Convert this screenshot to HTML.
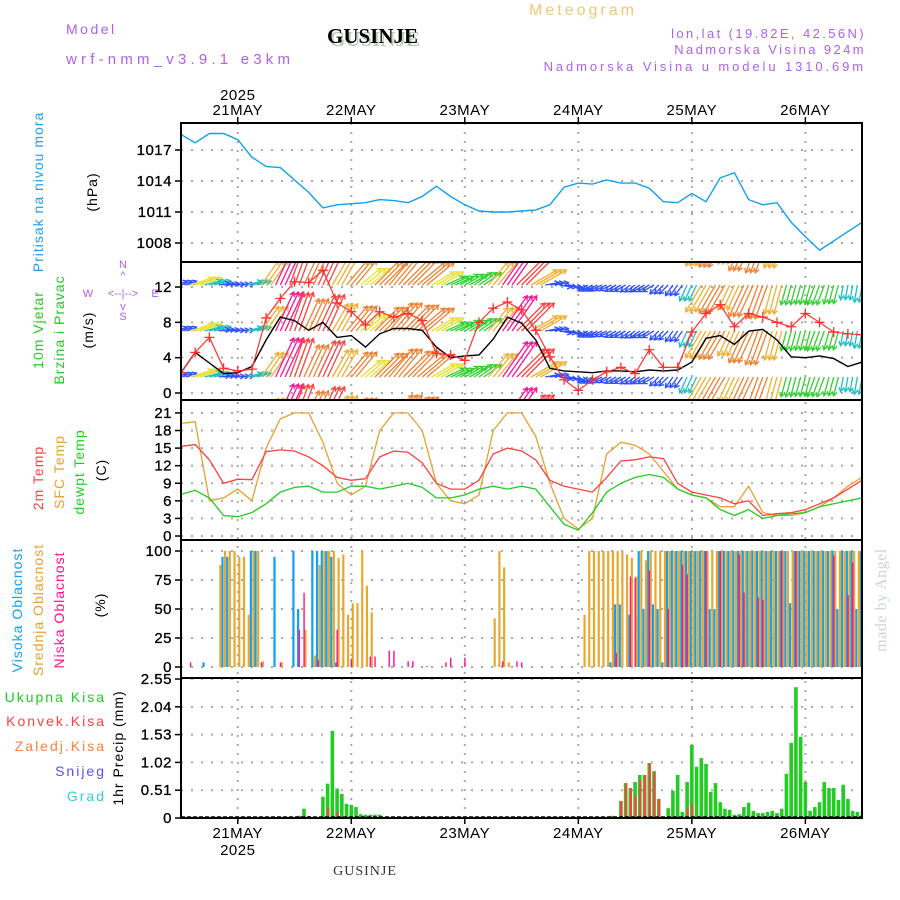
<!DOCTYPE html>
<html><head><meta charset="utf-8"><style>
html,body{margin:0;padding:0;background:#fff;}
svg{display:block;font-family:"Liberation Sans",sans-serif;}
</style></head><body>
<svg id="chart" width="900" height="900" viewBox="0 0 900 900" xmlns="http://www.w3.org/2000/svg">
<defs>
<clipPath id="c1"><rect x="181" y="123" width="681" height="139"/></clipPath>
<clipPath id="c2"><rect x="181" y="263" width="681" height="137"/></clipPath>
<clipPath id="c3"><rect x="181" y="401" width="681" height="139"/></clipPath>
<clipPath id="c4"><rect x="181" y="541" width="681" height="137"/></clipPath>
<clipPath id="c5"><rect x="181" y="679" width="681" height="139"/></clipPath>
</defs>
<g font-size="14">
<text x="66" y="34" fill="#b060f0" letter-spacing="2.5">Model</text>
<text x="66" y="64" fill="#b060f0" font-size="15" letter-spacing="4.2">wrf-nmm_v3.9.1 e3km</text>
<text x="583" y="15" fill="#f0c878" font-size="16" text-anchor="middle" letter-spacing="3">Meteogram</text>
<text x="329" y="46" fill="#b8ccb8" font-family="'Liberation Serif',serif" font-weight="bold" font-size="21">GUSINJE</text>
<text x="327" y="43" fill="#000" font-family="'Liberation Serif',serif" font-weight="bold" font-size="21">GUSINJE</text>
<text x="866" y="38" fill="#b060f0" text-anchor="end" font-size="13" letter-spacing="2.4">lon,lat (19.82E, 42.56N)</text>
<text x="866" y="54" fill="#b060f0" text-anchor="end" font-size="13" letter-spacing="2.4">Nadmorska Visina 924m</text>
<text x="866" y="71" fill="#b060f0" text-anchor="end" font-size="13" letter-spacing="2.9">Nadmorska Visina u modelu 1310.69m</text>
<text x="365" y="875" fill="#333" font-family="'Liberation Serif',serif" font-size="14" text-anchor="middle" letter-spacing="1">GUSINJE</text>
<text transform="translate(886,600) rotate(-90)" fill="#c8d8c8" font-family="'Liberation Serif',serif" font-size="16" text-anchor="middle" letter-spacing="0.5">made by Angel</text>
</g>
<g font-size="14" letter-spacing="1">
<text transform="translate(43,192) rotate(-90)" fill="#1ea0f0" text-anchor="middle">Pritisak na nivou mora</text>
<text transform="translate(97,192) rotate(-90)" fill="#000" text-anchor="middle">(hPa)</text>
<text transform="translate(43,330) rotate(-90)" fill="#22cc22" text-anchor="middle">10m Vjetar</text>
<text transform="translate(64,330) rotate(-90)" fill="#22cc22" text-anchor="middle">Brzina i Pravac</text>
<text transform="translate(93,330) rotate(-90)" fill="#000" text-anchor="middle">(m/s)</text>
</g>
<g fill="#b060f0" font-size="11" text-anchor="middle">
<text x="123" y="268">N</text><text x="123" y="279">^</text>
<text x="88" y="297">W</text><text x="123" y="297">&lt;--|--&gt;</text><text x="155" y="297">E</text>
<text x="123" y="310">v</text><text x="123" y="320">S</text>
</g>
<g font-size="14" letter-spacing="1">
<text transform="translate(43,478) rotate(-90)" fill="#ff4040" text-anchor="middle">2m Temp</text>
<text transform="translate(64,472) rotate(-90)" fill="#e8a030" text-anchor="middle">SFC Temp</text>
<text transform="translate(84,472) rotate(-90)" fill="#22cc22" text-anchor="middle">dewpt Temp</text>
<text transform="translate(106,470) rotate(-90)" fill="#000" text-anchor="middle">(C)</text>
<text transform="translate(22,610) rotate(-90)" fill="#10a0f0" text-anchor="middle">Visoka Oblacnost</text>
<text transform="translate(43,610) rotate(-90)" fill="#e8a030" text-anchor="middle">Srednja Oblacnost</text>
<text transform="translate(64,610) rotate(-90)" fill="#ff1090" text-anchor="middle">Niska Oblacnost</text>
<text transform="translate(105,605) rotate(-90)" fill="#000" text-anchor="middle">(%)</text>
<g text-anchor="end" font-size="14" letter-spacing="2">
<text x="106" y="702" fill="#22cc22">Ukupna Kisa</text>
<text x="106" y="726" fill="#ff4040">Konvek.Kisa</text>
<text x="106" y="751" fill="#ff8040">Zaledj.Kisa</text>
<text x="106" y="776" fill="#5050ff">Snijeg</text>
<text x="106" y="801" fill="#30d0d0">Grad</text>
</g>
<text transform="translate(123,748) rotate(-90)" fill="#000" text-anchor="middle">1hr Precip (mm)</text>
</g>
<g id="plots"></g>
</svg>
<script>
// ---- data (time index t = 3-hourly from 20 May 12 UTC) ----
const dayLabels = ["21MAY","22MAY","23MAY","24MAY","25MAY","26MAY"];
const dayHours = [12,36,60,84,108,132];
const pressure = [1018.5,1017.7,1018.6,1018.6,1018,1016.3,1015.4,1015.3,1014.1,1012.9,1011.4,1011.7,1011.8,1011.9,1012.2,1012.1,1011.9,1012.5,1013.5,1012.5,1011.7,1011.1,1011,1011,1011.1,1011.2,1011.7,1013.4,1013.8,1013.7,1014.1,1013.8,1013.8,1013.3,1012,1011.9,1012.8,1012,1014.3,1014.8,1012.2,1011.7,1011.9,1010,1008.6,1007.3,1008.2,1009.1,1010];
const windSpeed = [2.3,4.6,3.4,2.2,2.3,3,6,8.6,8.2,7.1,8,6.3,6.5,5.2,6.7,7.3,7.3,7.1,5.2,4,4.2,4.3,6.1,8.6,7.9,6,2.8,2.5,2.4,2.3,2.5,2.5,2.4,2.6,2.5,2.6,3.5,6.2,6.5,5.5,7,7.2,6,4.1,4,4.2,3.9,3,3.5];
const windGust = [2.3,4.6,6.3,2.8,2.5,2.7,8.5,10.7,12.6,12.5,13.9,10.2,9.2,7.7,9.2,8.6,9,8.2,4.5,4.3,3.7,8,9.6,10.3,9.4,7.1,4.1,1.5,0.3,1.5,2.4,2.9,2.2,4.9,2.9,2.9,6.9,9,10,7.5,9,8.6,8,7.5,9,8,6.9,6.7,6.6];
const windDir = [250,252,255,262,265,255,215,205,200,205,205,210,220,230,225,220,225,230,240,245,240,235,220,215,225,240,260,280,300,60,65,60,55,60,45,35,25,30,30,25,25,20,15,15,15,20,15,10,10];
const temp2m = [15.3,15.6,13,9,9.7,9.6,14.4,14.7,14.5,13.5,12,10,9.5,9.8,13.5,14.5,14.3,12.5,9,8,8,9.5,14,15,14.5,13,9.5,8.5,8,7.5,10,12.8,13,13.5,13.2,9,7.5,7,6.5,5.5,6,3.5,3.8,4,4.5,5.5,6.5,8,9.5];
const tempSfc = [19.2,19.5,6,6.5,8,6,15,20,21,21,16,9,7,8.5,18,21,21,18,9,6,5.5,7,18,21,21,17,9,3,1.2,3,14,16,15.5,14,11,8,7,6.5,5,5,8.5,4,3.5,3.5,4,5,6.5,8.5,10];
const tempDew = [7.1,7.8,6.5,3.5,3.3,4,5.5,7.5,8.3,8.5,7.5,7.5,8.5,8.5,8,8.5,9,8.3,6.5,6.5,7,8,8.5,8,8.5,8,5,2,1,4,7.5,9,10,10.5,10,8,7,6.5,4.5,3.5,4.5,3,3.5,3.8,4,5,5.5,6,6.5];
// hourly cloud cover (h = hours from 20 May 12 UTC)
const cloudHigh = [0,0,0,0,0,4,0,0,0,95,95,0,
 0,0,0,100,100,0,0,0,95,0,0,0,100,50,0,0,100,100,100,100,95,4,0,0,
 0,0,0,0,0,0,0,0,0,0,0,0,0,0,0,0,0,0,0,0,0,0,0,0,
 0,0,0,0,0,0,0,0,0,0,0,0,0,0,0,0,0,0,0,0,0,0,0,0,
 0,0,0,0,0,0,0,4,54,54,0,45,0,100,50,100,54,50,4,100,100,100,100,100,
 100,100,100,100,50,50,100,100,100,100,100,100,100,100,100,100,100,100,100,100,100,55,100,100,
 100,100,100,100,100,100,100,50,100,100,100,50,100];
const cloudMid = [0,0,0,0,0,0,0,0,88,100,100,100,
 95,95,45,100,100,5,0,0,0,4,0,0,0,0,32,0,10,88,100,100,100,94,97,45,
 55,55,100,70,47,0,0,0,0,0,0,0,0,0,0,0,0,0,0,0,0,0,0,0,
 0,0,0,0,0,0,42,100,86,4,0,0,0,0,0,0,0,0,0,0,0,0,0,0,
 0,45,100,100,100,100,100,100,100,100,97,94,78,100,92,100,100,100,100,100,100,100,100,100,
 100,100,100,100,100,100,100,100,100,100,100,100,100,100,100,100,100,100,100,100,100,100,100,100,
 100,100,100,100,100,100,100,100,100,100,100,100,50];
const cloudLow = [0,0,4,0,0,0,0,0,0,0,0,0,
 0,0,0,0,0,4,0,0,0,4,0,0,0,32,64,0,0,6,0,0,0,32,0,0,
 7,0,0,0,9,9,0,0,14,14,0,0,5,5,0,0,1,0,0,0,4,8,0,0,
 8,0,0,0,0,0,0,0,5,0,0,5,4,0,0,0,0,0,0,0,0,0,0,0,
 0,0,0,0,0,0,0,0,12,0,0,78,77,0,0,83,0,0,0,50,0,0,88,80,
 0,0,0,100,0,0,100,0,0,0,97,64,0,0,60,58,0,0,0,100,0,0,100,0,
 0,0,0,0,0,0,96,0,0,62,90,0,0];
const precipHours = [25,26,27,30,31,32,33,34,35,36,37,38,39,40,41,42,43,91,93,94,95,96,97,98,99,100,101,103,104,105,106,107,108,109,110,111,112,113,114,115,116,117,118,119,120,121,122,123,124,125,126,127,128,129,130,131,132,133,134,135,136,137,138,139,140,141,142,143,144];
const precipTotal = [0.04,0.17,0.03,0.39,0.63,1.6,0.54,0.44,0.26,0.24,0.2,0.07,0.06,0.06,0.06,0.06,0.02,0.04,0.31,0.64,0.55,0.66,0.79,0.79,1.01,0.86,0.35,0.18,0.5,0.79,0.11,0.66,1.34,0.94,1.1,0.99,0.48,0.64,0.29,0.17,0.15,0.06,0.07,0.2,0.28,0.13,0.09,0.09,0.11,0.13,0.09,0.17,0.81,1.38,2.4,1.49,0.66,0.13,0.2,0.29,0.66,0.55,0.55,0.33,0.61,0.35,0.13,0.11,0.06];
const precipConv = [0.04,0.05,0.03,0,0.18,0,0.1,0,0,0,0,0,0,0,0,0,0,0,0.31,0.64,0.55,0.4,0.7,0.78,1.0,0.85,0.35,0,0,0,0,0.17,0.25,0,0,0,0,0,0,0,0,0,0,0,0,0,0,0,0,0,0,0,0,0,0.02,0,0,0,0,0,0,0,0,0,0,0,0,0,0];
const pressTicks = [1008,1011,1014,1017];
const windTicks = [0,4,8,12];
const tempTicks = [0,3,6,9,12,15,18,21];
const cloudTicks = [0,25,50,75,100];
const precipTicks = [0,0.51,1.02,1.53,2.04,2.55];

// ---- axes ----
const X0 = 181, PXH = 4.73;
const xH = h => X0 + h * PXH;
const xT = t => xH(t * 3);
const yP = p => 150 + (1017 - p) * 10.333;
const yW = v => 393 - v * 8.83;
const yT = c => 536 - c * 5.86;
const yC = c => 667 - c * 1.16;
const yR = m => 818 - m * 54.5;

const NS = "http://www.w3.org/2000/svg";
const root = document.getElementById('plots');
function mk(tag, attrs, parent) {
  const e = document.createElementNS(NS, tag);
  for (const k in attrs) e.setAttribute(k, attrs[k]);
  (parent || root).appendChild(e);
  return e;
}
const panels = [
  {top:123,bot:262,ticks:pressTicks,y:yP,clip:'c1',name:'pressure-panel',fmt:v=>String(v)},
  {top:262,bot:400,ticks:windTicks,y:yW,clip:'c2',name:'wind-panel',fmt:v=>String(v)},
  {top:400,bot:540,ticks:tempTicks,y:yT,clip:'c3',name:'temperature-panel',fmt:v=>String(v)},
  {top:540,bot:678,ticks:cloudTicks,y:yC,clip:'c4',name:'cloud-panel',fmt:v=>String(v)},
  {top:678,bot:818,ticks:precipTicks,y:yR,clip:'c5',name:'precip-panel',fmt:v=>v===0?"0":v.toFixed(2)}
];
const gridG = mk('g', {});


panels.forEach(p => {
  p.ticks.forEach(v => {
    const y = p.y(v);
    const gl = mk('line', {x1:181,x2:862,y1:y,y2:y,stroke:'#aaa','stroke-width':2,'stroke-dasharray':'2,8'}, gridG);
    
    
    const tk = mk('line', {x1:175,x2:181,y1:y,y2:y,stroke:'#000','stroke-width':1.5}, gridG);
    
    
    const tl = mk('text', {x:172,y:y+5,'text-anchor':'end','font-size':15,fill:'#000','stroke':'#000','stroke-width':0.3,'letter-spacing':0.5}, gridG);
    
    
    tl.textContent = p.fmt(v);
  });
});
dayHours.forEach((h, i) => {
  const x = xH(h);
  const vl = mk('line', {x1:x,x2:x,y1:123,y2:818,stroke:'#aaa','stroke-width':2,'stroke-dasharray':'2,7'}, gridG);
  
  
  mk('line', {x1:x,x2:x,y1:117,y2:123,stroke:'#000','stroke-width':1.5}, gridG);
  mk('line', {x1:x,x2:x,y1:818,y2:824,stroke:'#000','stroke-width':1.5}, gridG);
  const tt = mk('text', {x:x,y:115,'text-anchor':'middle','font-size':15,fill:'#000','letter-spacing':0.5}, gridG);
  
  
  tt.textContent = dayLabels[i];
  const bt = mk('text', {x:x,y:838,'text-anchor':'middle','font-size':15,fill:'#000','letter-spacing':0.5}, gridG);
  
  
  bt.textContent = dayLabels[i];
});
const yr1 = mk('text', {x:xH(12),y:100,'text-anchor':'middle','font-size':15,fill:'#000','letter-spacing':0.5}, gridG);


yr1.textContent = '2025';
const yr2 = mk('text', {x:xH(12),y:855,'text-anchor':'middle','font-size':15,fill:'#000','letter-spacing':0.5}, gridG);


yr2.textContent = '2025';

function poly(arr, yf, color, clip, name, w) {
  const pts = arr.map((v, t) => xT(t).toFixed(1) + ',' + yf(v).toFixed(1)).join(' ');
  const pl = mk('polyline', {points:pts,fill:'none',stroke:color,'stroke-width':w||1.3,'clip-path':'url(#'+clip+')'});
  
  
  return pl;
}
// pressure
poly(pressure, yP, '#10a0f0', 'c1', 'pressure-line', 1.4);

// wind arrows
function speedColor(v) {
  if (v < 3) return '#3050ff';
  if (v < 3.8) return '#20c0c0';
  if (v < 4.6) return '#30d030';
  if (v < 5.5) return '#e8e030';
  if (v < 6.4) return '#f0b030';
  if (v < 7.5) return '#f08030';
  if (v < 8.4) return '#ff4040';
  return '#ff1090';
}
const arrowG = mk('g', {'clip-path':'url(#c2)'});


const rows = [239, 285, 331, 377, 423];
const hourOffsets = [-1, 0, 1];
windDir.forEach((d, t) => {
  const v = windSpeed[t];
  const L = v * 5;
  const to = (d + 180) * Math.PI / 180;
  const dx = L * Math.sin(to), dy = -L * Math.cos(to);
  const col = speedColor(v);
  const ang = Math.atan2(dy, dx);
  rows.forEach(r => {
    hourOffsets.forEach(o => {
      const x0 = xH(t * 3 + o), y0 = r, x1 = x0 + dx, y1 = y0 + dy;
      const hl = 5;
      const a1 = ang + 2.6, a2 = ang - 2.6;
      const ar = mk('path', {d:`M${x0},${y0}L${x1},${y1}M${x1+hl*Math.cos(a1)},${y1+hl*Math.sin(a1)}L${x1},${y1}L${x1+hl*Math.cos(a2)},${y1+hl*Math.sin(a2)}`,stroke:col,'stroke-width':1.3,fill:'none'}, arrowG);
      
      
    });
  });
});
poly(windSpeed, yW, '#000', 'c2', 'wind-speed-line', 1.4);
poly(windGust, yW, '#ff3030', 'c2', 'wind-gust-line', 1.2);
windGust.forEach((g, t) => {
  const x = xT(t), y = yW(g);
  const cr = mk('path', {d:`M${x-5},${y}H${x+5}M${x},${y-5}V${y+5}`,stroke:'#ff3030','stroke-width':1.3,'clip-path':'url(#c2)'});
  
  
});

// temperatures
poly(tempSfc, yT, '#e8a030', 'c3', 'sfc-temp-line', 1.3);
poly(temp2m, yT, '#ff4040', 'c3', 'temp-2m-line', 1.3);
poly(tempDew, yT, '#22cc22', 'c3', 'dewpoint-line', 1.3);

// clouds
const cloudG = mk('g', {'clip-path':'url(#c4)'});


function cbar(h, v, dx, w, col, name) {
  if (v <= 0) return;
  const x = xH(h) + dx;
  const b = mk('rect', {x:x,y:yC(v),width:w,height:yC(0)-yC(v),fill:col}, cloudG);
  
  
}
cloudHigh.forEach((v, h) => cbar(h, v, -2.2, 2.2, '#10a0f0', 'high-cloud-bar'));
cloudMid.forEach((v, h) => cbar(h, v, 0.4, 2.2, '#e8a830', 'mid-cloud-bar'));
cloudLow.forEach((v, h) => cbar(h, v, -0.6, 1.4, '#ff1090', 'low-cloud-bar'));

// precipitation
const precG = mk('g', {'clip-path':'url(#c5)'});


precipHours.forEach((h, i) => {
  const x = xH(h) - 1.8;
  const tv = precipTotal[i], cv = precipConv[i];
  const b = mk('rect', {x:x,y:yR(tv),width:3.6,height:yR(0)-yR(tv),fill:'#22cc22'}, precG);
  
  
  if (cv > 0) {
    const c = mk('rect', {x:x+1.2,y:yR(cv),width:2.2,height:yR(0)-yR(cv),fill:'#ff4040'}, precG);
    
    
  }
});
mk('line', {x1:181,x2:862,y1:817,y2:817,stroke:'#000','stroke-width':1.5,'stroke-dasharray':'4,2'});

// frames
panels.forEach(p => {
  const r = mk('rect', {x:181,y:p.top,width:681,height:p.bot-p.top,fill:'none',stroke:'#000','stroke-width':2});
  
  
});
</script>
</body></html>
